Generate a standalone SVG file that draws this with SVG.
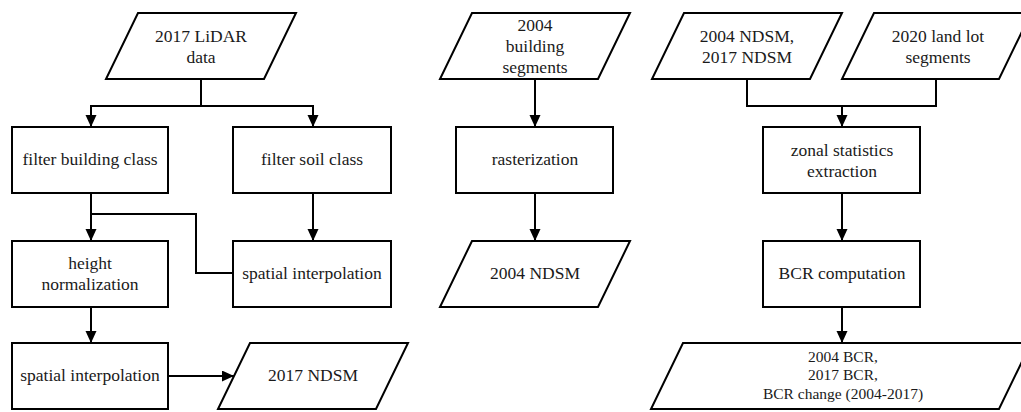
<svg xmlns="http://www.w3.org/2000/svg" width="1021" height="412" viewBox="0 0 1021 412">
  <style>
    .shape { fill: #ffffff; stroke: #000000; stroke-width: 2; }
    .conn { fill: none; stroke: #000000; stroke-width: 2; }
    text { font-family: "Liberation Serif", "Times New Roman", serif; font-size: 17.5px; fill: #1a1a1a; text-anchor: middle; }
    .small { font-size: 15.5px; }
  </style>
  <defs>
    <marker id="arrow" markerUnits="userSpaceOnUse" markerWidth="13" markerHeight="12" refX="12" refY="5.5" orient="auto">
      <path d="M0,0 L12,5.5 L0,11 z" fill="#000000"/>
    </marker>
  </defs>
  <rect width="1021" height="412" fill="#ffffff"/>

  <g id="connectors">
    <path class="conn" d="M201,79 V106 H91 V127" marker-end="url(#arrow)"/>
    <path class="conn" d="M201,106 H313 V127" marker-end="url(#arrow)"/>
    <path class="conn" d="M91,193 V241" marker-end="url(#arrow)"/>
    <path class="conn" d="M91,214 H196 V273 H233"/>
    <path class="conn" d="M313,193 V241" marker-end="url(#arrow)"/>
    <path class="conn" d="M91,307 V343" marker-end="url(#arrow)"/>
    <path class="conn" d="M168,376 H234" marker-end="url(#arrow)"/>
    <path class="conn" d="M535,79 V127" marker-end="url(#arrow)"/>
    <path class="conn" d="M535,193 V241" marker-end="url(#arrow)"/>
    <path class="conn" d="M747,79 V106 H936 V79"/>
    <path class="conn" d="M842,106 V127" marker-end="url(#arrow)"/>
    <path class="conn" d="M842,193 V241" marker-end="url(#arrow)"/>
    <path class="conn" d="M842,307 V343" marker-end="url(#arrow)"/>
  </g>

  <g id="lidar-data">
    <polygon class="shape" points="138,13 296,13 264,79 106,79"/>
    <text x="201" y="42">2017 LiDAR</text>
    <text x="201" y="63">data</text>
  </g>
  <g id="filter-building">
    <rect class="shape" x="12" y="127" width="156" height="66"/>
    <text x="90" y="165">filter building class</text>
  </g>
  <g id="filter-soil">
    <rect class="shape" x="233" y="127" width="158" height="66"/>
    <text x="312" y="165">filter soil class</text>
  </g>
  <g id="height-normalization">
    <rect class="shape" x="12" y="241" width="156" height="66"/>
    <text x="90" y="269">height</text>
    <text x="90" y="290">normalization</text>
  </g>
  <g id="spatial-interpolation-soil">
    <rect class="shape" x="233" y="241" width="158" height="66"/>
    <text x="312" y="279">spatial interpolation</text>
  </g>
  <g id="spatial-interpolation-building">
    <rect class="shape" x="12" y="343" width="156" height="66"/>
    <text x="90" y="381">spatial interpolation</text>
  </g>
  <g id="ndsm-2017">
    <polygon class="shape" points="250,343 408,343 376,409 218,409"/>
    <text x="313" y="381">2017 NDSM</text>
  </g>

  <g id="building-segments-2004">
    <polygon class="shape" points="472,13 630,13 598,79 440,79"/>
    <text x="535" y="31">2004</text>
    <text x="535" y="52">building</text>
    <text x="535" y="73">segments</text>
  </g>
  <g id="rasterization">
    <rect class="shape" x="456" y="127" width="157" height="66"/>
    <text x="535" y="165">rasterization</text>
  </g>
  <g id="ndsm-2004">
    <polygon class="shape" points="472,241 630,241 598,307 440,307"/>
    <text x="535" y="279">2004 NDSM</text>
  </g>

  <g id="ndsm-inputs">
    <polygon class="shape" points="684,13 842,13 810,79 652,79"/>
    <text x="747" y="42">2004 NDSM,</text>
    <text x="747" y="63">2017 NDSM</text>
  </g>
  <g id="land-lot-segments">
    <polygon class="shape" points="874,13 1031,13 999,79 842,79"/>
    <text x="938" y="42">2020 land lot</text>
    <text x="938" y="63">segments</text>
  </g>
  <g id="zonal-statistics">
    <rect class="shape" x="763" y="127" width="157" height="66"/>
    <text x="842" y="156">zonal statistics</text>
    <text x="842" y="177">extraction</text>
  </g>
  <g id="bcr-computation">
    <rect class="shape" x="763" y="241" width="157" height="66"/>
    <text x="842" y="279">BCR computation</text>
  </g>
  <g id="bcr-outputs">
    <polygon class="shape" points="683,343 1031,343 999,409 651,409"/>
    <text class="small" x="843" y="362">2004 BCR,</text>
    <text class="small" x="843" y="380">2017 BCR,</text>
    <text class="small" x="843" y="399">BCR change (2004-2017)</text>
  </g>
</svg>
